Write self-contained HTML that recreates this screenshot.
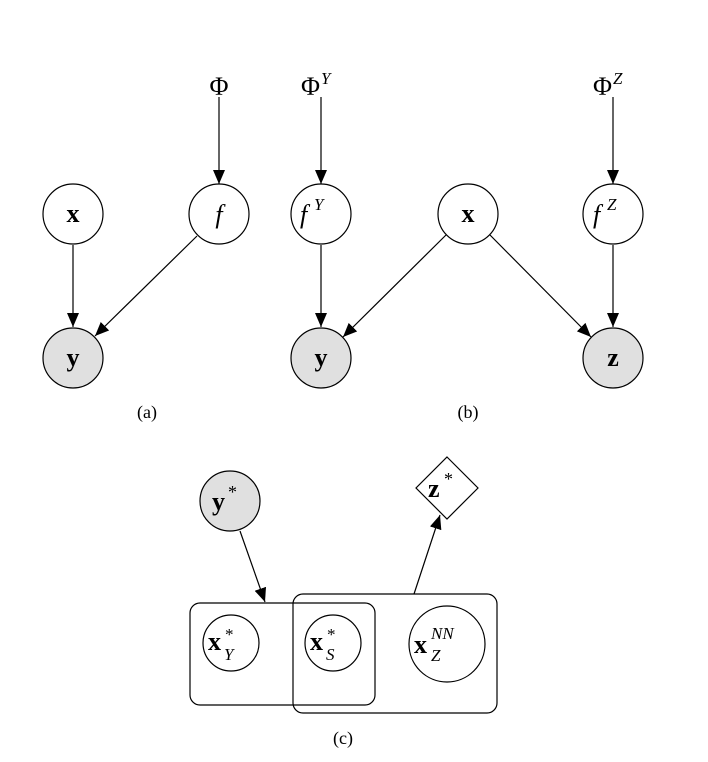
<!DOCTYPE html>
<html><head><style>body{margin:0;background:#fff}svg text{font-family:"Liberation Serif",serif;fill:#000}</style></head>
<body>
<svg width="708" height="757" viewBox="0 0 708 757" xmlns="http://www.w3.org/2000/svg">
<defs><marker id="a" markerWidth="14" markerHeight="12" refX="14" refY="6" orient="auto" markerUnits="userSpaceOnUse" viewBox="0 0 14 12"><path d="M0,0 L14,6 L0,12z" fill="#000"/></marker>
</defs>
<g stroke="#000" stroke-width="1.2" fill="none">
<!-- (a) -->
<line x1="219" y1="97" x2="219" y2="184" marker-end="url(#a)"/>
<line x1="73" y1="245" x2="73" y2="327" marker-end="url(#a)"/>
<line x1="197" y1="236" x2="95" y2="336" marker-end="url(#a)"/>
<circle cx="73" cy="214" r="30" fill="#fff"/>
<circle cx="219" cy="214" r="30" fill="#fff"/>
<circle cx="73" cy="358" r="30" fill="#e0e0e0"/>
<!-- (b) -->
<line x1="321" y1="97" x2="321" y2="184" marker-end="url(#a)"/>
<line x1="613" y1="97" x2="613" y2="184" marker-end="url(#a)"/>
<line x1="321" y1="245" x2="321" y2="327" marker-end="url(#a)"/>
<line x1="613" y1="245" x2="613" y2="327" marker-end="url(#a)"/>
<line x1="446" y1="235" x2="343" y2="337" marker-end="url(#a)"/>
<line x1="490" y1="235" x2="591" y2="337" marker-end="url(#a)"/>
<circle cx="321" cy="214" r="30" fill="#fff"/>
<circle cx="468" cy="214" r="30" fill="#fff"/>
<circle cx="613" cy="214" r="30" fill="#fff"/>
<circle cx="321" cy="358" r="30" fill="#e0e0e0"/>
<circle cx="613" cy="358" r="30" fill="#e0e0e0"/>
<!-- (c) -->
<line x1="240" y1="531" x2="265" y2="602" marker-end="url(#a)"/>
<line x1="414" y1="594" x2="440" y2="515" marker-end="url(#a)"/>
<circle cx="230" cy="501" r="30" fill="#e0e0e0"/>
<path d="M447,457 L478,488 L447,519 L416,488z" fill="#fff"/>
<rect x="190" y="603" width="185" height="102" rx="10"/>
<rect x="293" y="594" width="204" height="119" rx="10"/>
<circle cx="231" cy="643" r="28"/>
<circle cx="333" cy="643" r="28"/>
<circle cx="447" cy="644" r="38"/>
</g>
<g font-size="26">
<text x="73" y="222" text-anchor="middle" font-weight="bold">x</text>
<text x="219" y="223" text-anchor="middle" font-style="italic">f</text>
<text x="73" y="366" text-anchor="middle" font-weight="bold">y</text>
<text x="219" y="95" text-anchor="middle">Φ</text>
<text x="301" y="95">Φ</text><text x="321" y="84" font-size="17" font-style="italic">Y</text>
<text x="593" y="95">Φ</text><text x="613" y="84" font-size="17" font-style="italic">Z</text>
<text x="300" y="223" font-style="italic">f</text><text x="314" y="210" font-size="17" font-style="italic">Y</text>
<text x="593" y="223" font-style="italic">f</text><text x="607" y="210" font-size="17" font-style="italic">Z</text>
<text x="468" y="222" text-anchor="middle" font-weight="bold">x</text>
<text x="321" y="366" text-anchor="middle" font-weight="bold">y</text>
<text x="613" y="366" text-anchor="middle" font-weight="bold">z</text>
<text x="212" y="510" font-weight="bold">y</text><text x="228" y="498" font-size="18">*</text>
<text x="428" y="497" font-weight="bold">z</text><text x="444" y="485" font-size="18">*</text>
<text x="208" y="650" font-weight="bold">x</text><text x="225" y="640" font-size="17">*</text><text x="224" y="660" font-size="17" font-style="italic">Y</text>
<text x="310" y="650" font-weight="bold">x</text><text x="327" y="640" font-size="17">*</text><text x="326" y="660" font-size="17" font-style="italic">S</text>
<text x="414" y="653" font-weight="bold">x</text><text x="431" y="639" font-size="17" font-style="italic">NN</text><text x="431" y="661" font-size="17" font-style="italic">Z</text>
</g>
<g font-size="18" text-anchor="middle">
<text x="147" y="418">(a)</text>
<text x="468" y="418">(b)</text>
<text x="343" y="744">(c)</text>
</g>
</svg>
</body></html>
